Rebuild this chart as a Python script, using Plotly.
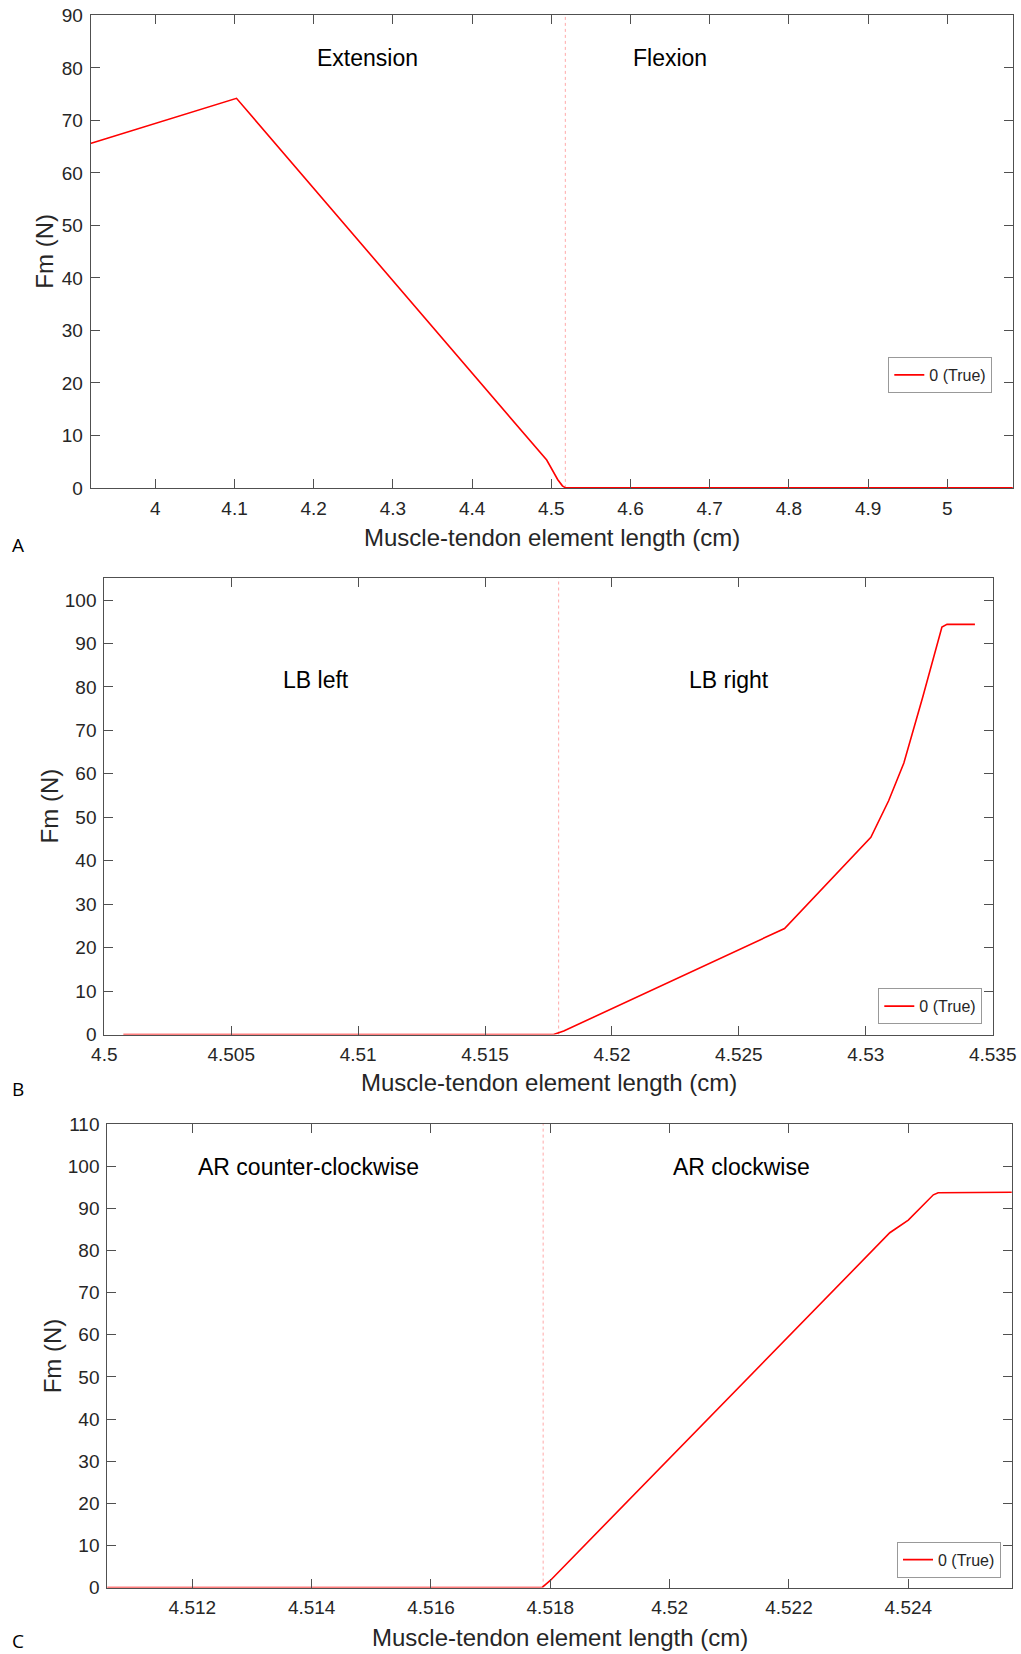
import plotly.graph_objects as go

# ---------------- data ----------------
# Panel A
a_len = [3.918, 4.1025, 4.4942, 4.508, 4.514, 4.518, 5.083]
a_fm = [65.6, 74.2, 5.3, 1.6, 0.4, 0.0, 0.0]
a_boundary = 4.5177
a_regions = ["Extension", "Flexion"]
a_region_x = [4.268, 4.650]
a_region_y = [81.8, 81.8]
a_xticks = [4.0, 4.1, 4.2, 4.3, 4.4, 4.5, 4.6, 4.7, 4.8, 4.9, 5.0]
a_xlabels = ["4", "4.1", "4.2", "4.3", "4.4", "4.5", "4.6", "4.7", "4.8", "4.9", "5"]
a_yticks = [0, 10, 20, 30, 40, 50, 60, 70, 80, 90]

# Panel B
b_len = [4.50075, 4.5177, 4.5181, 4.5268, 4.5302,
         4.5309, 4.5315, 4.53225, 4.5330, 4.5332, 4.5343]
b_fm = [0.0, 0.0, 0.8, 24.4, 45.4,
        53.8, 62.5, 77.8, 93.8, 94.4, 94.4]
b_boundary = 4.5179
b_regions = ["LB left", "LB right"]
b_region_x = [4.50833, 4.5246]
b_region_y = [81.7, 81.7]
b_xticks = [4.5, 4.505, 4.51, 4.515, 4.52, 4.525, 4.53, 4.535]
b_xlabels = ["4.5", "4.505", "4.51", "4.515", "4.52", "4.525", "4.53", "4.535"]
b_yticks = [0, 10, 20, 30, 40, 50, 60, 70, 80, 90, 100]

# Panel C
c_len = [4.5105, 4.51786, 4.5180, 4.52369, 4.5240, 4.52442, 4.5245, 4.5258]
c_fm = [0.0, 0.0, 1.7, 84.2, 87.2, 93.2, 93.7, 93.8]
c_boundary = 4.51788
c_regions = ["AR counter-clockwise", "AR clockwise"]
c_region_x = [4.51394, 4.52121]
c_region_y = [99.8, 99.8]
c_xticks = [4.512, 4.514, 4.516, 4.518, 4.52, 4.522, 4.524]
c_xlabels = ["4.512", "4.514", "4.516", "4.518", "4.52", "4.522", "4.524"]
c_yticks = [0, 10, 20, 30, 40, 50, 60, 70, 80, 90, 100, 110]

series_name = "0 (True)"
x_title = "Muscle-tendon element length (cm)"
y_title = "Fm (N)"
panel_letters = ["A", "B", "C"]

# ---------------- layout constants (pixels, window coordinates) ----------------
W, H = 1021, 1654
FONT = "Liberation Sans, Arial, sans-serif"
TXT = "#262626"
AXC = "#505050"
RED = "#ff0000"

boxes = [  # left, right, top, bottom in pixels
    (90.7, 1012.7, 15.4, 487.9),
    (104.3, 992.7, 578.3, 1034.5),
    (107.3, 1011.7, 1124.0, 1587.6),
]
xranges = [[3.9184, 5.0826], [4.5, 4.535], [4.510575, 4.525733]]
yranges = [[0, 90], [0, 105], [0, 110]]

def px(x):
    return x / W

def py(y):
    return 1 - y / H

fig = go.Figure()

panels = [
    (a_len, a_fm, a_boundary, a_regions, a_region_x, a_region_y, a_xticks, a_xlabels, a_yticks),
    (b_len, b_fm, b_boundary, b_regions, b_region_x, b_region_y, b_xticks, b_xlabels, b_yticks),
    (c_len, c_fm, c_boundary, c_regions, c_region_x, c_region_y, c_xticks, c_xlabels, c_yticks),
]

legend_pos = [  # x, y, xanchor, yanchor (pixels)
    (992.3, 357.0, "right", "top"),
    (982.3, 1024.2, "right", "bottom"),
    (1001.0, 1577.7, "right", "bottom"),
]
ytitle_x = [45.0, 49.0, 52.5]
xtitle_y = [537.5, 1082.7, 1637.0]
letter_pos = [(17.8, 544.6), (18.0, 1089.3), (17.5, 1641.0)]

annotations = []
shapes = []
for i, (xs, ys, bnd, regs, rx, ry, xt, xl, yt) in enumerate(panels):
    n = "" if i == 0 else str(i + 1)
    xa, ya = "x" + n, "y" + n
    lg = "legend" + n
    fig.add_trace(go.Scatter(
        x=xs, y=ys, mode="lines", name=series_name,
        line=dict(color=RED, width=1.6),
        xaxis=xa, yaxis=ya, legend=lg, showlegend=True,
    ))
    l, r, t, b = boxes[i]
    common = dict(
        showline=True, linecolor=AXC, linewidth=1, mirror="ticks",
        ticks="inside", ticklen=9, tickcolor=AXC, tickwidth=1,
        showgrid=False, zeroline=False, automargin=False,
        ticklabeloverflow="allow",
        tickfont=dict(family=FONT, size=19, color=TXT),
    )
    fig.layout["xaxis" + n] = dict(
        domain=[px(l), px(r)], range=xranges[i], anchor=ya,
        tickmode="array", tickvals=xt, ticktext=xl,
        ticklabelstandoff=3, **common,
    )
    fig.layout["yaxis" + n] = dict(
        domain=[py(b), py(t)], range=yranges[i], anchor=xa,
        tickmode="array", tickvals=yt, ticktext=[str(v) for v in yt],
        ticklabelstandoff=3, **common,
    )
    lx, ly, lxa, lya = legend_pos[i]
    fig.layout[lg] = dict(
        x=px(lx), y=py(ly), xanchor=lxa, yanchor=lya,
        xref="paper", yref="paper",
        bgcolor="white", bordercolor="#999999", borderwidth=1,
        font=dict(family=FONT, size=16, color=TXT),
        itemwidth=30, tracegroupgap=0,
    )
    shapes.append(dict(
        type="line", xref=xa, yref=ya + " domain",
        x0=bnd, x1=bnd, y0=0, y1=1,
        line=dict(color="#ffa8a8", width=1, dash="dot"), layer="below",
    ))
    for txt, tx, ty in zip(regs, rx, ry):
        annotations.append(dict(
            text=txt, x=tx, y=ty, xref=xa, yref=ya, showarrow=False,
            xanchor="center", yanchor="middle",
            font=dict(family=FONT, size=23, color="#000000"),
        ))
    annotations.append(dict(
        text=y_title, x=px(ytitle_x[i]), y=py((t + b) / 2), xref="paper", yref="paper",
        showarrow=False, textangle=-90, xanchor="center", yanchor="middle",
        font=dict(family=FONT, size=24, color=TXT),
    ))
    annotations.append(dict(
        text=x_title, x=px((l + r) / 2), y=py(xtitle_y[i]), xref="paper", yref="paper",
        showarrow=False, xanchor="center", yanchor="middle",
        font=dict(family=FONT, size=24, color=TXT),
    ))
    lpx, lpy = letter_pos[i]
    annotations.append(dict(
        text=panel_letters[i], x=px(lpx), y=py(lpy), xref="paper", yref="paper",
        showarrow=False, xanchor="center", yanchor="middle", borderpad=0,
        font=dict(family="Open Sans, sans-serif", size=19, color="#000000"),
    ))

fig.update_layout(
    width=W, height=H,
    margin=dict(l=0, r=0, t=0, b=0, pad=0, autoexpand=False),
    paper_bgcolor="white", plot_bgcolor="white",
    annotations=annotations, shapes=shapes,
)

fig.write_html(
    "out.html",
    config={"displayModeBar": False},
    post_script="document.body.style.margin='0';document.body.style.overflow='hidden';",
)
